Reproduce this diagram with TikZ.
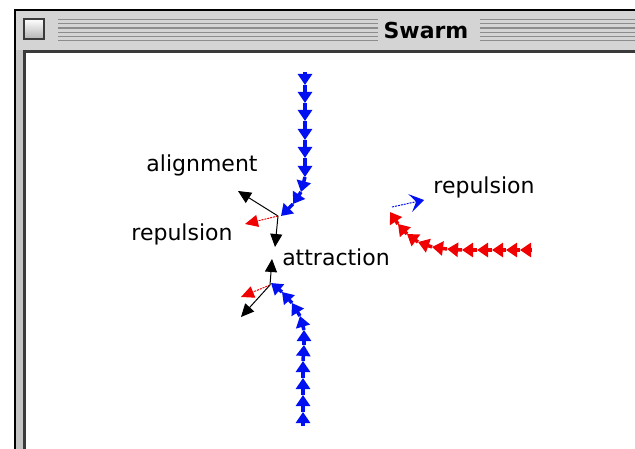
\documentclass[tikz,border=0pt]{standalone}
\usepackage{fontspec}
\setmainfont{DejaVu Sans}
\usetikzlibrary{arrows.meta}
\definecolor{barfill}{HTML}{D4D4D4}
\definecolor{stripecol}{HTML}{8C8C8C}
\definecolor{framegrey}{HTML}{C4C4C4}
\definecolor{darkline}{HTML}{3A3A3A}
\definecolor{boidblue}{HTML}{0010F0}
\definecolor{boidred}{HTML}{F00000}
\begin{document}
\begin{tikzpicture}[x=1pt,y=-1pt,
  chainblue/.style={draw=boidblue,line width=3.5pt,-{Triangle[width=14pt,length=11pt,fill=boidblue]}},
  chainred/.style={draw=boidred,line width=3.5pt,-{Triangle[width=14pt,length=11pt,fill=boidred]}},
  vecblack/.style={draw=black,line width=1pt,-{Triangle[width=12pt,length=13pt,fill=black]}},
  vecred/.style={draw=boidred,line width=1pt,dash pattern=on 2pt off 1pt,-{Triangle[width=12pt,length=13pt,fill=boidred]}},
  vecblue/.style={draw=boidblue,line width=1pt,dash pattern=on 2pt off 1pt,-{Stealth[width=18pt,length=14pt,inset=6pt,fill=boidblue]}},
  lbl/.style={font=\fontsize{22}{24}\selectfont,inner sep=0pt},
  ttl/.style={font=\bfseries\fontsize{22}{24}\selectfont,inner sep=0pt}]
\useasboundingbox (0,0) rectangle (635,449);
\fill[white] (0,0) rectangle (635,449);
% window frame
\fill[framegrey] (14,9) rectangle (635,449);
\fill[black] (14,9) rectangle (635,11);
\fill[black] (14,9) rectangle (16,449);
\fill[barfill] (16,11) rectangle (635,50);
\fill[darkline] (23,50) rectangle (635,53);
\fill[darkline] (23,50) rectangle (26,449);
\fill[white] (26,53) rectangle (635,449);
% close box
\shade[top color=white,bottom color=gray!60] (24,19) rectangle (44,39);
\draw[darkline,line width=2pt] (24,19) rectangle (44,39);
% stripes
\foreach \i in {0,...,5}{
  \draw[stripecol,line width=1.3pt] (58,19.5+4.25*\i) -- (378,19.5+4.25*\i);
  \draw[stripecol,line width=1.3pt] (480,19.5+4.25*\i) -- (635,19.5+4.25*\i);
}
\node[ttl] (title) at (426,30) {Swarm};
% top blue flock
\foreach \xa/\ya/\xb/\yb in {305/72/305/85, 305/85/305/103, 305/103/305/121, 305/121/305/140,
  305/140/305/158, 305/158/305/177, 305/177/301/192, 301/192/293/204, 293/204/281/216}
  \draw[chainblue] (\xa,\ya) -- (\xb,\yb);
% bottom blue flock
\foreach \xa/\ya/\xb/\yb in {303/426/303/412, 303/412/303/395, 303/395/303/378, 303/378/303/361,
  303/361/304/345, 304/345/304/330, 304/330/300/316, 300/316/292/303, 292/303/282/292, 282/292/271/283}
  \draw[chainblue] (\xa,\ya) -- (\xb,\yb);
% red flock
\foreach \xa/\ya/\xb/\yb in {532/250/520/250, 520/250/506/250, 506/250/492/250, 492/250/477/250,
  477/250/462/250, 462/250/447/249, 447/249/432/247, 432/247/418/242, 418/242/407/234,
  407/234/398/224, 398/224/390/212}
  \draw[chainred] (\xa,\ya) -- (\xb,\yb);
% force vectors, upper boid
\coordinate (ua) at (278,216);
\coordinate (align) at (238,191);
\coordinate (urep) at (245,224);
\coordinate (uatt) at (275,247);
\draw[vecblack] (ua) -- (align);
\draw[vecred] (ua) -- (urep);
\draw[vecblack] (ua) -- (uatt);
% force vectors, lower boid
\coordinate (la) at (270,285);
\coordinate (latt) at (272,259);
\coordinate (lrep) at (241,297);
\coordinate (lali) at (241,317);
\draw[vecblack] (la) -- (latt);
\draw[vecred] (la) -- (lrep);
\draw[vecblack] (la) -- (lali);
% repulsion between flocks
\coordinate (rb) at (392,207);
\coordinate (rbh) at (424,200);
\draw[vecblue] (rb) -- (rbh);
% labels
\node[lbl] (lalign) at (202,165) {alignment};
\node[lbl] (lrepl) at (182,234) {repulsion};
\node[lbl] (latt2) at (336,257) {attraction};
\node[lbl] (lrepr) at (484,187) {repulsion};
\end{tikzpicture}
\end{document}
